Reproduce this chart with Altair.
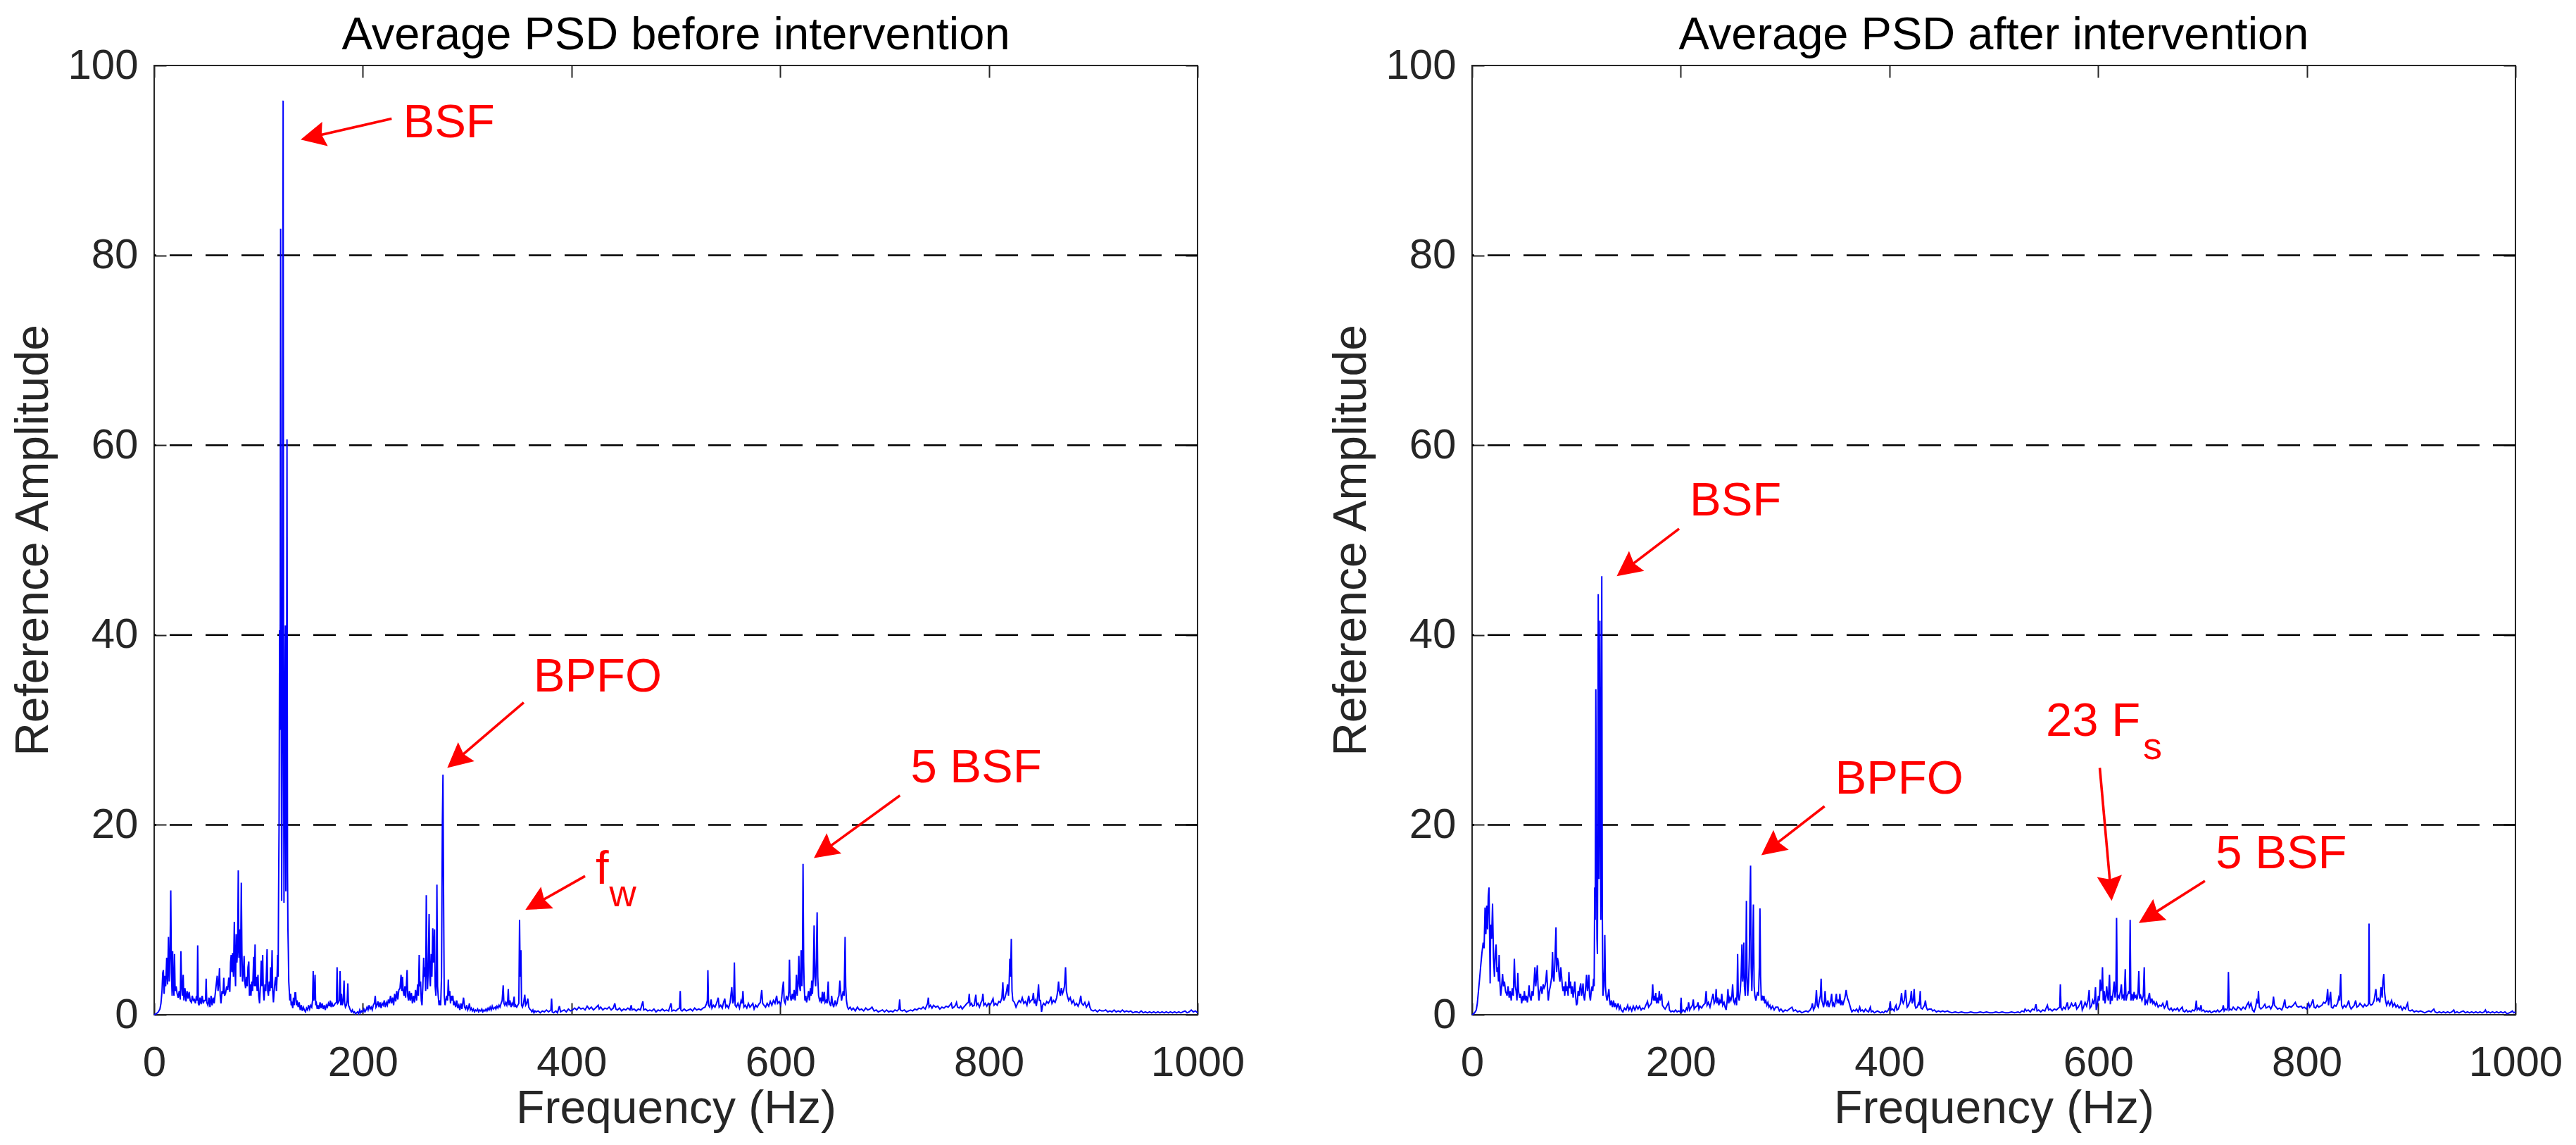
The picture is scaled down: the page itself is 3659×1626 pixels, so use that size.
import math
import altair as alt
import pandas as pd

FONT = "Liberation Sans"
W, H = 1482, 1348
PXF = W / 1000.0   # px per Hz
PXA = H / 100.0    # px per amplitude unit

x_ticks = [0, 200, 400, 600, 800, 1000]
y_ticks = [0, 20, 40, 60, 80, 100]
grid_levels = [20, 40, 60, 80]

# ---- spectrum before intervention: (frequency Hz, amplitude)
before_pts = [
(0,0),(2,0.1),(4,0.3),(5.5,0.6),(6.5,1.2),(7.5,2.5),(8.2,4.4),(8.8,4.7),(9.5,2.2),(10.3,4.1),(11,3),(12,6.0),(12.8,3.2),
(13.7,8.2),(14.4,3.5),(15.2,6.5),(15.9,13.1),(16.5,4.4),(17.2,2.0),(17.7,6.7),(18.3,3.0),(19.0,2.0),(19.5,6.4),(20.1,2.5),
(21,3.0),(22,2.2),(23,1.8),(24,2.5),(25.0,1.6),(25.6,6.7),(26.3,3.0),(27.0,2.0),(27.8,4.2),(28.5,1.5),(29.5,2.8),(30.5,1.4),
(31.5,2.5),(32.5,1.7),(33.5,2.4),(34.5,1.5),(35.7,1.3),(36.5,2.0),(37.5,1.5),(38.5,1.6),(39.5,1.2),(40.5,2.0),(41.2,1.5),
(41.7,7.3),(42.3,1.2),(43,1.0),(44,1.8),(45,1.1),(46,2.0),(47,1.2),(48,1.5),(49.2,1.5),(49.8,3.8),(50.4,1.3),(51.5,1.0),
(52.5,1.8),(53.5,0.8),(54.5,2.0),(55.5,1.0),(56.5,1.8),(57.5,1.2),(58.5,2.2),(59.5,3.2),(60.4,4.1),(61.2,2.5),(62.0,3.5),
(62.6,4.9),(63.3,2.0),(64.0,1.2),(65.0,2.5),(66.0,2.2),(66.7,3.9),(67.5,2.0),(68.5,2.3),(69.5,3.0),(70.5,2.6),(71.5,3.9),
(72.5,2.4),(73.2,5.5),(73.8,6.3),(74.5,4.5),(75.2,6.5),(76.0,4.0),(76.8,9.8),(77.4,5.0),(78.0,3.0),(78.6,8.5),(79.3,5.5),
(80.0,7.0),(80.6,15.2),(81.2,6.0),(82.0,9.0),(82.7,4.0),(83.5,13.9),(84.1,6.5),(84.7,3.5),(85.5,4.5),(86.2,6.2),(86.8,3.5),
(87.6,2.8),(88.3,4.0),(89.2,3.0),(89.9,5.0),(90.7,5.6),(91.3,2.0),(92.0,3.2),(92.8,2.0),(93.5,3.5),(94.3,2.5),(95.4,6.1),
(96.0,3.0),(96.7,7.4),(97.3,3.0),(98.0,4.0),(98.7,2.5),(99.5,4.2),(100.2,2.0),(101.0,1.2),(101.8,3.0),(102.6,5.7),(103.3,3.0),
(104.0,6.3),(104.6,2.5),(105.3,1.5),(106.2,3.2),(107.0,2.5),(107.6,4.5),(108.2,6.9),(108.8,2.5),(109.5,2.0),(110.3,3.5),
(111.0,2.5),(111.6,5.0),(112.3,2.8),(113.0,6.8),(113.6,2.5),(114.3,1.3),(115.0,2.5),(115.8,3.5),(116.5,4.0),(117.2,2.5),
(117.8,4.0),(118.3,6.3),(118.8,4.0),(119.2,12),(119.7,20),(120.2,40.5),(120.7,30),(121.2,82.8),(121.7,35),(122.2,12),
(122.8,30),(123.6,96.3),(124.1,25),(124.4,11.8),(124.8,20),(125.2,33.5),(125.7,41),(126.2,13),(126.8,28),(127.3,60.6),
(127.8,15),(128.2,9),(128.6,6.6),(129.0,3.5),(129.5,2.5),(130.0,1.5),(130.7,2.2),(131.3,1.0),(132.0,1.2),(132.8,0.7),
(133.5,1.8),(134.2,1.0),(135.0,2.3),(135.6,2.3),(136.3,1.0),(137.0,1.5),(138.0,0.8),(139.0,1.3),(140.0,0.5),(141.0,1.0),
(142.0,0.4),(143.0,0.8),(144.0,0.5),(145.0,0.3),(146.0,0.7),(147.0,0.5),(148.0,1.0),(149.0,0.6),(150.0,1.0),(151.0,0.8),
(151.8,1.5),(152.4,4.6),(153.0,1.5),(153.6,2.0),(154.2,4.2),(154.8,1.0),(155.5,1.2),(156.3,0.6),(157.0,1.0),(158.0,0.6),
(159.0,1.3),(160.0,0.7),(161.0,1.2),(162.0,0.6),(163.0,1.0),(164.0,0.5),(165.0,1.0),(166.0,0.8),(167.0,1.2),(168.0,0.9),
(168.8,1.5),(169.6,0.8),(170.5,1.2),(171.5,0.9),(172.5,1.0),(173.5,1.2),(174.7,1.3),(175.3,5.0),(175.9,1.2),(176.6,1.3),
(177.4,1.5),(178.2,4.6),(178.8,1.0),(179.5,2.2),(180.3,1.0),(181.2,1.5),(182.0,3.6),(182.6,1.2),(183.3,0.8),(184.2,1.0),
(185.0,1.5),(185.6,3.3),(186.2,1.0),(187.0,0.8),(188.0,0.5),(189.0,0.3),(190.0,0.5),(191.0,0.2),(192.0,0.3),(193.0,0.1),
(194.0,0.2),(195.0,0.3),(196.0,0.1),(197.0,0.5),(198.0,0.2),(199.0,0.4),(200.0,0.3),(201.0,0.6),(202.0,0.3),(203.0,0.5),
(204.0,0.8),(205.0,0.5),(206.0,1.0),(207.0,0.6),(208.0,0.8),(209.0,0.5),(210.0,1.0),(211.0,1.2),(211.9,2.0),(212.6,0.8),
(213.5,1.0),(214.5,1.4),(215.5,0.8),(216.5,1.3),(217.5,0.7),(218.5,1.2),(219.5,1.0),(220.5,1.5),(221.5,0.8),(222.5,1.3),
(223.5,1.0),(224.5,1.6),(225.5,1.2),(226.5,2.0),(227.5,1.2),(228.5,1.8),(229.5,1.0),(230.5,2.2),(231.5,1.4),(232.5,2.5),
(233.5,1.6),(234.5,2.6),(235.6,2.8),(236.6,4.2),(237.3,2.5),(238.0,4.0),(238.7,2.5),(239.5,2.0),(240.3,3.0),(241.0,1.8),
(241.8,3.2),(242.4,4.7),(243.0,2.0),(243.8,1.5),(244.6,2.5),(245.5,1.5),(246.5,2.3),(247.5,1.2),(248.5,2.0),(249.5,1.3),
(250.5,2.6),(251.5,1.5),(252.5,3.2),(253.3,2.0),(254.0,6.3),(254.6,3.0),(255.3,3.5),(256.0,1.5),(256.7,1.0),(257.5,3.0),
(258.3,6.0),(258.9,4.0),(259.6,5.0),(260.2,2.5),(260.8,12.6),(261.4,5.0),(262.0,2.7),(262.6,4.5),(263.5,10.6),(264.1,4.0),
(264.7,3.0),(265.5,6.4),(266.2,4.0),(267.0,9.1),(267.6,5.5),(268.0,6.0),(268.7,9.0),(269.3,3.0),(270.0,2.0),(270.5,4.0),
(271.0,13.7),(271.6,3.0),(272.2,2.0),(273.0,1.0),(273.8,1.5),(274.6,1.0),(275.4,4.0),(276.2,20.2),(276.8,25.3),(277.4,12.0),
(278.0,2.0),(278.8,1.0),(279.5,1.5),(280.3,2.0),(281.2,1.5),(281.9,3.7),(282.5,2.0),(283.3,2.5),(284.0,1.2),(284.8,2.0),
(285.5,1.5),(286.3,2.0),(287.0,1.0),(288.0,1.3),(289.0,0.8),(290.0,1.5),(291.0,0.7),(292.0,1.0),(293.0,0.5),(294.0,1.2),
(295.0,0.6),(296.5,1.8),(297.5,0.8),(298.5,0.6),(299.5,1.0),(300.5,0.5),(301.5,0.8),(302.1,1.2),(303.0,0.5),(304,0.7),
(305,0.4),(306,0.6),(307,0.3),(308,0.5),(309,0.4),(310,0.6),(311,0.3),(312,0.5),(313,0.4),(314,0.6),(315,0.3),(316,0.5),
(317,0.4),(318,0.6),(319,0.4),(320,0.7),(321,0.5),(322,0.8),(323,0.5),(324,0.9),(325,0.6),(326.8,0.8),(327.5,0.6),
(328.5,0.9),(329.5,0.7),(330.5,1.0),(331.5,0.8),(332.5,1.2),(333.5,1.5),(334.5,3.1),(335.2,1.2),(336.0,1.0),(337.0,1.3),
(338.0,1.0),(338.8,1.5),(339.4,2.7),(340.0,1.0),(341.0,1.5),(342.0,0.8),(343.0,1.2),(344.0,1.0),(345.0,1.9),(345.7,0.8),
(346.5,1.0),(347.5,0.8),(348.5,1.0),(349.5,1.2),(350.2,10.0),(350.8,4.0),(351.5,6.8),(352.1,1.0),(353.0,0.8),(354.0,1.2),
(355.2,2.1),(356.0,1.0),(357.0,1.2),(358.1,1.7),(359.0,0.8),(360.0,0.6),(361,0.5),(362,0.3),(363,0.5),(364,0.2),(365,0.4),
(366,0.3),(368,0.4),(370,0.2),(372,0.4),(374,0.3),(376,0.5),(378,0.3),(380.2,0.5),(380.9,1.7),(381.5,0.3),(383,0.2),
(385,0.4),(386.5,0.2),(388.4,0.9),(389.5,0.3),(391,0.4),(393,0.5),(395,0.3),(397,0.6),(399,0.4),(401,0.5),(403,0.7),
(405,0.5),(407,0.8),(409,0.6),(411,0.7),(413,0.5),(415,0.9),(417,0.6),(419,0.8),(421,0.5),(423,0.7),(425.6,1.0),(426.5,0.6),
(428,0.8),(430,0.5),(432,0.7),(434,0.6),(436,0.8),(438,0.5),(440,0.7),(441.5,1.2),(442.5,0.6),(444,0.5),(446,0.7),(448,0.4),
(450,0.6),(452,0.5),(454,0.7),(456,0.5),(457.2,1.0),(458,0.5),(460,0.6),(462,0.4),(464,0.6),(466,0.5),(468.4,1.4),(469.2,0.5),
(471,0.6),(473,0.4),(475,0.5),(477,0.4),(479,0.6),(481,0.3),(483,0.5),(485,0.4),(487,0.6),(489,0.4),(491,0.5),(493,0.4),
(495.4,1.2),(496.2,0.4),(498,0.5),(500,0.4),(502,0.6),(503.5,0.7),(504.2,2.5),(504.8,0.5),(506,0.4),(508,0.6),(510,0.4),
(512,0.5),(514,0.6),(516,0.4),(518,0.7),(520,0.5),(522,0.6),(524,0.5),(526,0.7),(528,0.8),(529.5,1.2),(530.2,1.5),
(530.7,4.7),(531.3,1.0),(532.5,0.8),(533.8,1.6),(534.6,0.7),(536,1.0),(537.5,0.8),(539,1.2),(540.6,1.8),(541.5,0.8),
(543,1.0),(544.5,0.7),(545.5,1.2),(546.9,1.7),(547.8,0.8),(549,1.0),(550.5,0.7),(552,1.3),(553.6,2.9),(554.5,1.2),
(555.4,1.5),(556.1,5.5),(556.8,1.0),(558,0.8),(559.5,1.2),(561,0.7),(562.5,1.5),(563.5,1.2),(564.3,2.5),(565.2,0.8),
(566.5,1.0),(568,0.7),(569.5,1.2),(571,0.8),(572.5,1.0),(573.8,1.2),(575,0.6),(576.5,1.0),(578,0.8),(579.5,1.1),(581,1.3),
(582.3,2.6),(583.2,1.2),(584.5,1.0),(586,0.8),(587.5,1.2),(589,0.9),(590.5,1.4),(592,1.0),(593.5,1.5),(595,1.2),(596.6,2.0),
(597.5,1.2),(599,1.4),(600.5,1.0),(601.5,1.8),(602.3,2.8),(603.1,3.5),(603.8,1.5),(604.8,1.2),(606,2.0),(607.5,1.5),
(608.3,2.5),(608.9,5.8),(609.6,2.0),(610.5,1.5),(611.6,2.2),(612.4,1.6),(613.4,2.6),(614.3,1.5),(615.0,2.5),(615.6,4.2),
(616.3,2.0),(617.2,3.5),(617.9,6.2),(618.5,3.0),(619.3,2.5),(620.1,6.8),(620.8,3.0),(621.3,5.0),(621.9,15.9),(622.5,5.6),
(623.0,3.0),(623.7,1.5),(624.5,2.0),(625.3,1.3),(626.2,1.8),(627.2,2.5),(628.0,1.5),(629.0,2.8),(629.6,2.0),(630.2,3.6),
(630.9,2.2),(631.7,4.0),(632.5,9.4),(633.2,4.0),(634.0,3.0),(634.7,6.0),(635.4,10.8),(636.0,4.0),(636.8,2.0),(637.8,1.5),
(638.8,1.8),(639.6,1.2),(640.4,2.4),(641.2,1.4),(642.2,2.4),(643.0,1.3),(644.0,1.5),(645.0,1.2),(646.0,3.5),(646.7,1.5),
(647.5,1.2),(648.5,0.9),(649.3,2.0),(650.2,1.2),(651.2,0.8),(652.7,1.5),(653.6,1.0),(654.5,1.2),(655.5,1.8),(656.3,2.0),
(657.2,3.6),(657.9,2.5),(658.8,1.5),(659.6,2.0),(660.4,2.5),(661.3,2.0),(662.2,8.2),(662.8,3.0),(663.5,1.5),(664.5,0.8),
(665.5,0.6),(667,0.8),(668.5,0.5),(670,0.7),(672,0.4),(674,0.8),(676,0.5),(678,0.6),(680,0.4),(682,0.7),(684,0.5),(686,0.6),
(688,0.8),(690,0.4),(692,0.5),(694,0.3),(696,0.4),(698,0.5),(700,0.3),(702,0.5),(704,0.3),(706,0.4),(708,0.3),(710,0.5),
(712,0.4),(713.8,0.6),(714.5,1.6),(715.2,0.5),(717,0.4),(719,0.5),(721,0.3),(723,0.4),(725,0.5),(727,0.4),(729,0.6),
(731,0.5),(733,0.7),(735,0.6),(737,0.8),(739,0.6),(740.5,1.0),(741.3,1.2),(742.0,1.8),(742.7,0.8),(744,1.0),(745.5,0.7),
(747,1.0),(749,0.8),(751,0.9),(753,0.6),(755,0.8),(757,0.7),(759,0.9),(761,0.8),(762.5,1.0),(764.0,1.2),(765.0,0.7),
(766.5,0.8),(768,1.0),(769.0,1.3),(770,0.8),(771.5,0.7),(773,0.9),(774.5,0.6),(776,0.8),(777.5,1.0),(779,1.2),(780.4,1.3),
(781.2,2.2),(782.0,1.0),(783.3,1.2),(784.5,0.9),(786,1.0),(787.5,2.1),(788.3,1.0),(789.5,1.2),(791,0.8),(792.5,1.3),
(793.5,1.5),(794.3,2.2),(795.2,1.0),(796.5,1.2),(798,0.9),(799.5,1.2),(801,1.0),(802.5,1.3),(804,1.7),(805,1.0),(806.5,1.2),
(808,1.0),(809.5,1.4),(811,1.3),(812.5,1.8),(813.4,3.4),(814.2,1.5),(815.5,1.8),(817.0,2.5),(817.9,3.2),(818.8,2.0),
(819.5,3.5),(820.1,5.9),(820.8,4.0),(821.5,8.0),(822.2,2.5),(823,1.5),(824.5,1.3),(826,0.8),(827.5,1.2),(829,1.5),
(830.5,1.3),(832,1.8),(833.5,1.2),(835,1.4),(836.5,1.0),(838.2,2.0),(839.2,1.3),(840.5,1.5),(841.8,1.6),(842.7,2.3),
(843.5,1.2),(844.5,1.5),(845.5,0.9),(846.8,2.0),(847.6,3.2),(848.4,1.5),(849.5,1.5),(850.5,0.3),(851.5,1.0),(852.5,1.2),
(854,1.0),(855.5,1.4),(857,1.2),(858.5,1.5),(859.6,1.9),(860.5,1.2),(862,1.5),(863.5,1.3),(865,1.8),(866.0,2.5),(866.8,3.5),
(867.5,2.5),(868.5,2.0),(869.5,2.8),(870.5,2.2),(871.5,2.5),(872.5,3.0),(873.5,5.0),(874.3,2.5),(875.2,2.0),(876.5,1.5),
(878,1.8),(879.5,1.2),(881,1.5),(882.5,1.0),(884,1.2),(885.5,0.9),(887,1.3),(888.1,2.0),(889,1.2),(890.5,1.0),(892,1.3),
(893.5,0.8),(895,1.1),(895.8,1.3),(896.8,0.8),(898,0.5),(900,0.4),(902,0.5),(904,0.3),(906,0.5),(908,0.4),(910,0.4),
(912,0.5),(914,0.3),(916,0.4),(918,0.3),(920,0.5),(922,0.3),(924,0.4),(926,0.3),(928,0.5),(930,0.3),(932,0.4),(934,0.3),
(936,0.4),(938,0.2),(940,0.3),(942,0.3),(944,0.2),(946,0.4),(948,0.2),(950,0.3),(952,0.2),(954,0.3),(956,0.2),(958,0.3),
(960,0.2),(962,0.3),(964,0.2),(966,0.3),(968,0.2),(970,0.3),(972,0.2),(974,0.3),(976,0.2),(978,0.3),(980,0.2),(982,0.3),
(984,0.2),(986,0.3),(988,0.4),(990,0.2),(992,0.3),(994,0.5),(996,0.3),(998,0.4),(1000,0.2),
]

# ---- spectrum after intervention
after_pts = [
(0,0),(1.5,0.1),(3,0.3),(4,0.5),(5,1.2),(6.1,2.5),(7.2,3.8),(8.3,5.2),(9.4,6.5),(10.6,7.6),(11.5,7.0),(12.4,11.3),(13.2,8.5),
(14.0,11.5),(14.8,9.0),(15.5,12.5),(16.2,13.4),(16.8,8.0),(17.3,3.3),(17.8,9.5),(18.7,8.0),(19.6,11.7),(20.5,6.0),(21.4,4.0),
(22.2,6.5),(23.0,7.4),(23.8,4.5),(24.6,5.0),(25.3,3.5),(25.9,6.3),(26.6,3.5),(27.4,2.0),(28.3,3.0),(29.2,4.3),(30.0,3.0),
(31.0,3.5),(32.0,2.5),(33.5,2.0),(34.5,3.0),(35.5,1.8),(36.5,2.5),(37.5,1.5),(38.5,2.8),(39.5,2.0),(40.5,5.9),(41.3,3.0),
(42.2,2.5),(43.0,1.5),(43.8,4.4),(44.5,2.5),(45.5,1.8),(46.5,2.2),(47.5,1.2),(48.5,2.0),(49.3,1.5),(50.1,2.5),(51.0,1.5),
(52.0,2.0),(53.0,1.3),(54.0,2.2),(54.6,3.1),(55.3,2.0),(56.5,1.5),(57.5,2.5),(58.5,2.0),(59.4,3.5),(60.2,5.0),(61.0,3.0),
(61.8,4.0),(62.5,5.2),(63.2,3.0),(64.0,1.5),(65.0,2.5),(66.0,3.0),(67.0,2.2),(68.1,3.2),(69.0,2.8),(69.8,3.0),(70.6,3.5),
(71.5,4.7),(72.2,3.0),(73.0,1.5),(74.0,2.5),(75.0,3.0),(76.3,4.0),(77.1,6.6),(77.7,4.0),(78.5,3.5),(79.3,5.5),(80.4,9.2),
(81.0,4.5),(81.8,6.0),(82.7,5.5),(83.5,4.0),(84.2,3.5),(85.0,5.0),(85.8,4.0),(86.5,3.0),(87.2,2.5),(88.0,3.0),(88.8,2.0),
(89.6,3.5),(90.5,2.5),(91.3,3.0),(92.0,2.0),(92.8,4.5),(93.5,2.8),(94.3,3.5),(95.2,2.2),(96.0,3.0),(96.8,1.8),(97.6,2.5),
(98.4,3.5),(99.2,2.0),(100.0,1.0),(100.8,1.2),(101.6,2.5),(102.5,2.0),(103.3,2.8),(104.1,3.3),(104.8,2.0),(105.6,2.5),
(106.3,3.3),(107.0,2.0),(107.8,1.5),(108.6,2.5),(109.7,4.2),(110.5,2.5),(111.2,3.0),(111.9,4.2),(112.6,2.0),(113.4,1.5),
(114.2,2.5),(115.0,3.0),(115.7,2.5),(116.4,3.8),(117.0,3.0),(117.5,13.4),(118.0,10),(118.6,34.3),(119.2,16),(119.7,8),
(120.1,6.4),(120.5,20),(120.9,44.3),(121.5,14.3),(122.0,25),(122.5,41.5),(123.0,18),(123.4,10),(123.9,30),(124.3,46.2),
(124.8,11),(125.4,2.0),(126.2,3.0),(126.8,5.0),(127.2,8.4),(127.8,3.0),(128.5,2.0),(129.3,1.5),(130.2,2.0),(131.1,2.7),
(131.8,1.5),(132.5,1.0),(133.5,1.5),(134.5,0.8),(135.6,1.5),(136.5,0.8),(137.5,1.2),(138.5,0.7),(140.0,1.2),(141.0,0.6),
(142.0,0.9),(143.0,0.5),(144.5,0.3),(146.0,0.7),(147.5,0.5),(149.1,1.0),(150.2,0.5),(151.5,0.8),(153.0,0.4),(154.5,0.9),
(156.0,0.5),(157.5,0.9),(159.0,0.6),(160.5,0.9),(162.0,0.5),(163.5,0.7),(165.0,0.6),(166.5,1.0),(168.1,1.4),(169.2,0.8),
(170.5,1.0),(171.8,1.2),(172.5,2.0),(173.1,3.2),(173.8,1.5),(174.6,2.0),(175.3,1.5),(176.0,2.3),(176.8,1.2),(177.6,1.8),
(178.5,1.2),(179.4,2.5),(180.2,1.5),(181.0,1.8),(181.6,2.2),(182.4,1.0),(183.5,0.8),(185.0,0.6),(186.5,0.9),(188.3,1.3),
(189.2,0.5),(190.5,0.3),(192,0.4),(193.5,0.3),(195,0.5),(196.5,0.3),(198,0.4),(199.6,0.3),(200.3,1.8),(201.0,0.3),(202.5,0.5),
(204,0.3),(205.5,0.7),(206.5,0.5),(207.5,1.3),(208.5,0.5),(210,0.8),(211.2,1.0),(212.0,1.6),(212.8,0.6),(214,0.8),(215.5,0.9),
(216.5,1.3),(217.4,0.6),(218.5,0.9),(220,0.7),(221.5,1.0),(223.3,1.2),(224.3,2.5),(225.2,1.0),(226.5,1.3),(228,0.8),
(229.5,1.5),(231.0,2.2),(232.0,1.2),(233.2,1.5),(233.9,2.7),(234.6,1.2),(235.5,1.8),(236.5,1.0),(237.5,1.5),(238.5,1.2),
(239.3,2.2),(240.2,1.0),(241.5,1.3),(242.5,0.8),(243.5,0.5),(244.5,1.5),(245.2,2.7),(246.0,1.2),(247.0,1.8),(248.0,1.5),
(249.0,2.0),(249.7,3.2),(250.5,1.5),(251.5,1.2),(252.5,1.8),(253.5,1.0),(254.0,2.5),(254.5,6.4),(255.1,2.0),(256.0,1.5),
(257.0,2.5),(257.8,4.0),(258.6,7.4),(259.3,3.5),(259.9,4.5),(260.4,7.6),(261.0,3.0),(261.8,2.0),(262.4,5.0),(262.9,12.0),
(263.5,4.0),(264.2,2.0),(265.0,3.5),(265.7,6.0),(266.3,12),(266.9,15.7),(267.5,5.0),(268.1,2.5),(268.7,5.0),(269.6,11.6),
(270.3,3.0),(271.0,2.0),(272.0,1.5),(272.8,2.0),(273.6,2.4),(274.5,2.0),(275.3,5.0),(275.9,11.2),(276.5,4.0),(277.2,1.5),
(278.0,2.0),(279.0,1.5),(279.7,2.0),(280.5,1.2),(281.5,1.5),(282.5,1.0),(283.5,1.3),(284.5,0.8),(285.5,1.0),(286.5,0.6),
(288,0.9),(289.5,0.5),(291,0.8),(293.1,0.8),(294.5,0.4),(296,0.6),(298,0.3),(300,0.5),(302,0.4),(304,0.6),(306.6,0.8),
(308,0.4),(310,0.5),(312,0.3),(314,0.4),(316,0.2),(318,0.3),(320,0.4),(322,0.3),(324,0.5),(325.4,0.8),(326.2,1.2),(327.2,0.5),
(328.5,0.8),(329.3,1.5),(330.0,2.6),(330.8,1.0),(331.8,0.8),(332.8,1.5),(333.8,2.0),(334.5,3.8),(335.2,1.5),(336.0,1.2),
(336.8,0.8),(337.5,1.2),(338.3,2.5),(339.2,1.2),(340.0,1.0),(341.0,1.5),(342.0,0.8),(343.0,1.2),(343.8,1.5),(344.6,2.2),
(345.4,1.0),(346.3,1.2),(347.3,0.8),(348.3,1.5),(349.1,2.2),(349.8,1.3),(350.8,1.5),(351.8,1.2),(352.5,2.2),(353.3,1.0),
(354.3,1.5),(355.3,1.0),(356.3,1.4),(357.3,1.8),(358.0,2.2),(358.5,2.6),(359.3,2.0),(360.2,1.6),(361.0,1.4),(362.0,1.0),
(363.0,0.6),(364.0,0.3),(365.5,0.5),(367,0.4),(368.5,0.6),(370,0.3),(371.5,0.8),(372.5,0.4),(374,0.5),(375.5,0.3),(377,0.6),
(378.5,0.4),(380,0.3),(381.7,0.8),(382.6,0.3),(384,0.4),(385.5,0.2),(387,0.3),(388.5,0.4),(390,0.3),(391.5,0.2),(393,0.3),
(394.5,0.2),(396,0.4),(397.5,0.3),(399,0.5),(400.2,0.8),(400.8,1.4),(401.5,0.5),(403,0.6),(404.5,0.4),(405.5,0.8),(406.4,1.0),
(407.2,0.5),(408.5,0.6),(409.5,0.9),(410.5,1.2),(411.6,2.3),(412.3,1.5),(413.2,1.2),(414.2,1.5),(415.4,2.6),(416.2,1.5),
(417.0,0.8),(418.2,1.0),(419.2,1.3),(420.0,1.5),(421.0,2.5),(421.8,1.2),(422.8,1.5),(423.7,2.7),(424.5,1.0),(425.3,0.7),
(426.5,0.8),(427.8,1.2),(428.6,1.0),(429.5,2.5),(430.2,0.7),(431.5,0.6),(432.5,0.8),(433.6,1.0),(434.5,1.5),(435.3,0.8),
(436.5,0.5),(438.0,0.6),(440.1,0.6),(441.5,0.4),(443,0.5),(445,0.3),(447,0.4),(449,0.3),(451,0.4),(453,0.3),(455.8,0.4),
(457,0.3),(460,0.2),(463,0.3),(466,0.2),(469,0.3),(472,0.2),(475,0.2),(478,0.3),(481,0.2),(484,0.2),(487,0.3),(490,0.2),
(493,0.3),(496,0.2),(499,0.2),(502,0.3),(505,0.2),(508,0.3),(511,0.2),(514,0.2),(517,0.3),(520,0.2),(523.3,0.3),(525,0.2),
(527,0.4),(529,0.3),(530,0.6),(531.5,0.4),(533,0.5),(535,0.3),(537,0.6),(539,0.5),(540.4,1.1),(541.5,0.4),(543,0.5),(545,0.3),
(547,0.5),(549,0.4),(550.6,0.8),(551.4,1.0),(552.5,0.5),(554,0.6),(556,0.4),(558,0.6),(560,0.5),(562,0.7),(563.2,0.8),
(563.8,3.2),(564.5,0.7),(565.5,0.5),(567,0.8),(568.5,0.6),(570.5,1.3),(571.5,0.6),(573,0.8),(574.5,1.2),(576,0.9),(577.5,1.0),
(578.3,1.3),(579.5,0.6),(581,0.8),(582.5,1.1),(583.9,1.5),(584.8,0.5),(586,0.8),(587.5,1.3),(589,0.9),(590.5,1.6),(591.4,2.6),
(592.2,0.7),(593.5,0.9),(594.8,1.5),(596,1.1),(596.8,1.8),(597.5,2.9),(598.2,0.5),(599.2,1.0),(600.3,2.0),(601.2,1.5),
(602.0,3.7),(602.8,2.5),(603.6,3.0),(604.2,5.0),(604.9,1.5),(605.8,2.5),(606.6,1.2),(607.4,1.8),(608.2,3.0),(609.0,2.0),
(609.8,1.5),(610.9,4.2),(611.7,1.1),(612.6,2.0),(613.5,1.5),(614.5,2.5),(615.4,3.5),(616.2,1.8),(617.0,2.5),(617.7,10.2),
(618.4,1.5),(619.3,2.0),(620.3,1.8),(621.5,2.5),(622.3,3.2),(623.0,1.8),(624.0,2.0),(625.0,1.5),(626.0,4.8),(626.8,1.5),
(627.8,2.0),(628.6,2.2),(629.4,2.5),(630.0,2.2),(630.7,10.0),(631.4,1.5),(632.5,2.2),(633.5,1.5),(634.5,2.4),(635.3,1.8),
(636.3,2.0),(637.2,1.6),(638.2,2.2),(639.0,4.6),(639.8,1.7),(640.8,2.0),(642.0,1.5),(643.3,2.0),(644.2,5.0),(644.9,1.0),
(646.0,1.5),(647.2,1.2),(648.2,1.8),(649.2,2.3),(650.2,1.2),(651.5,1.7),(652.5,1.2),(653.5,1.4),(654.8,1.0),(656.0,1.3),
(657.5,0.8),(659.0,1.0),(660.5,0.9),(662.0,1.2),(663.5,0.7),(665.0,1.0),(666.0,1.5),(667.0,0.7),(668.5,0.5),(670.0,0.7),
(671.5,0.4),(673.0,0.6),(674.5,0.5),(676.0,0.7),(677.5,0.4),(679.0,0.6),(680.6,0.8),(681.5,0.4),(683.0,0.3),(684.5,0.5),
(686.0,0.3),(687.5,0.4),(689.0,0.3),(690.5,0.5),(692.0,0.4),(693.2,0.6),(694.1,1.5),(694.9,0.5),(696.2,0.7),(697.5,0.5),
(698.6,1.0),(699.5,0.4),(701,0.5),(702.5,0.3),(704,0.4),(705.5,0.3),(707,0.4),(708.5,0.2),(710,0.3),(711.5,0.4),(713,0.3),
(714.5,0.5),(716,0.3),(717.5,0.4),(719.2,0.6),(720.0,1.0),(720.8,0.4),(722,0.6),(723.5,0.5),(724.2,0.8),(724.9,4.5),
(725.6,0.5),(726.5,0.6),(728,0.5),(729.5,0.8),(731,0.6),(732.5,0.5),(734,0.8),(735.7,0.7),(737,0.5),(739,0.8),(741,0.6),
(742.5,1.0),(744.1,1.3),(745,0.8),(746.5,1.2),(748,0.5),(749.5,0.3),(751,0.8),(752,1.5),(753.0,1.2),(753.7,2.5),(754.5,0.8),
(756,0.6),(758,0.8),(759.8,1.1),(761,0.7),(762.5,0.8),(764,0.9),(765.5,0.6),(767.2,1.0),(768.1,1.9),(769.0,1.0),(770.5,0.8),
(772,0.6),(774,0.7),(776,0.5),(777.5,0.9),(778.9,1.6),(779.8,0.8),(781.5,0.7),(783,0.9),(785,0.8),(787,1.0),(789,1.3),
(790.5,0.9),(792,0.8),(794.7,0.9),(796,0.7),(797.5,0.8),(799.8,0.6),(800.8,0.9),(801.8,1.2),(802.8,0.8),(804,1.0),(805.9,1.6),
(807,0.8),(808.5,0.7),(810,1.0),(811.5,0.8),(813,0.9),(814.5,1.0),(816.1,1.3),(817.5,1.2),(819,1.5),(820,2.7),(820.8,1.0),
(822.0,1.8),(822.8,2.4),(823.6,0.8),(825,0.7),(826.5,1.0),(828,0.9),(829.5,1.2),(830.6,1.8),(831.5,1.5),(832.5,4.3),
(833.3,1.0),(834.5,0.7),(836,1.0),(837.5,0.8),(839,1.1),(840.1,1.5),(841.2,0.9),(842.5,0.6),(844,0.8),(845.5,1.0),(846.8,1.5),
(848,0.8),(849.5,0.9),(851,1.2),(852.5,1.0),(854,0.8),(855.5,1.1),(857,0.9),(858.5,1.0),(859.3,1.2),(859.7,9.6),(860.2,1.2),
(861.5,1.0),(863,1.1),(864.5,1.5),(866.2,2.7),(867.2,1.5),(868.5,1.7),(870,1.3),(871.2,2.9),(872.2,1.8),(873.0,3.5),
(873.8,4.3),(874.6,2.3),(875.5,1.5),(876.5,1.0),(878,1.4),(879.5,1.0),(881.3,1.5),(882.5,0.9),(884,1.2),(885.5,0.8),(887,1.0),
(888.5,0.7),(890,0.9),(891.5,0.5),(893,0.8),(894.5,0.6),(896.6,1.2),(897.5,0.5),(899,0.4),(901,0.5),(903,0.3),(905,0.4),
(907,0.3),(909,0.4),(911,0.3),(913,0.2),(915,0.3),(917,0.4),(919,0.3),(921.8,0.6),(923,0.3),(925,0.2),(927,0.3),(929,0.2),
(931,0.3),(933,0.2),(935,0.3),(937,0.2),(939,0.3),(940.9,0.5),(942,0.2),(944,0.3),(946,0.2),(948,0.3),(950,0.4),(952,0.2),
(954,0.3),(956,0.2),(958,0.3),(960,0.2),(962,0.3),(964,0.2),(966,0.3),(968,0.2),(970,0.3),(971.2,0.5),(972.5,0.2),(974,0.3),
(976,0.2),(978,0.3),(980,0.2),(982,0.3),(984,0.2),(986,0.3),(988,0.2),(990,0.3),(992,0.1),(994,0.2),(996,0.3),(997,0.4),
(998.5,0.2),(1000,0.3),
]

# ---- annotations: (label, frequency, amplitude of baseline, font size)
before_labels = [("BSF", 238.5, 92.4, 67), ("BPFO", 363.5, 34.06, 67), ("f", 423.0, 13.82, 67),
                 ("w", 436.2, 11.42, 53), ("5 BSF", 725.0, 24.5, 67)]
after_labels = [("BSF", 208.5, 52.6, 67), ("BPFO", 347.8, 23.3, 67), ("23 F", 550.0, 29.4, 67),
                ("s", 643.0, 26.96, 54), ("5 BSF", 712.8, 15.4, 67)]
# arrows: (start freq, start amp, tip freq, tip amp)
before_arrows = [(227.6, 94.4, 140.4, 92.2), (354.2, 32.9, 280.9, 26.0),
                 (413.0, 14.6, 355.8, 11.05), (714.8, 23.1, 632.3, 16.5)]
after_arrows = [(198.4, 51.2, 138.6, 46.2), (337.8, 21.96, 277.2, 16.8),
                (601.6, 26.0, 613.0, 12.0), (702.4, 14.1, 639.0, 9.67)]

RED = "#FF0000"
AXC = "#262626"
HEAD_PATH = "M0,0 L-2,-1 L-1.72,0 L-2,1 Z"
HEAD_SIZE = 1260
HEAD_K = math.sqrt(HEAD_SIZE) / 2.0
TICK = 17


def arrow_frames(arrows):
    rows = []
    for f1, a1, f2, a2 in arrows:
        dx = (f2 - f1) * PXF
        dy = -(a2 - a1) * PXA
        L = math.hypot(dx, dy)
        ux, uy = dx / L, dy / L
        ang = math.degrees(math.atan2(dy, dx)) % 360
        back = 1.55 * HEAD_K
        fe = f2 - ux * back / PXF
        ae = a2 + uy * back / PXA
        rows.append({"f1": f1, "a1": a1, "fe": fe, "ae": ae, "f2": f2, "a2": a2, "ang": ang})
    return pd.DataFrame(rows)


def tick_axis(orient, values):
    return alt.Axis(orient=orient, values=values, labels=False, title=None, domain=False, grid=False,
                    ticks=True, tickSize=TICK, offset=-TICK, tickColor=AXC, tickWidth=2,
                    minExtent=0, maxExtent=0)


def panel(pts, title, labels, arrows):
    df = pd.DataFrame(pts, columns=["f", "a"])
    xs = alt.Scale(domain=[0, 1000], nice=False, zero=False)
    ys = alt.Scale(domain=[0, 100], nice=False)

    grid = alt.Chart(pd.DataFrame({"g": grid_levels})).mark_rule(
        color="black", strokeWidth=2.5, strokeDash=[32, 19]
    ).encode(y=alt.Y("g:Q", scale=ys, axis=None))

    line = alt.Chart(df).mark_line(color="#0000FF", strokeWidth=2.0, interpolate="linear").encode(
        x=alt.X("f:Q", scale=xs, axis=alt.Axis(
            orient="bottom", values=x_ticks, format="d", title="Frequency (Hz)", ticks=False, domain=False,
            grid=False, labelPadding=39, titlePadding=3, labelFlush=False, labelOverlap=False)),
        y=alt.Y("a:Q", scale=ys, axis=alt.Axis(
            orient="left", values=y_ticks, format="d", title="Reference Amplitude", ticks=False, domain=False,
            grid=False, labelPadding=23, titlePadding=14, labelFlush=False, labelOverlap=False)),
    )

    corner = pd.DataFrame({"f": [0, 1000], "a": [0, 100]})
    ticks_out = alt.Chart(corner).mark_point(opacity=0).encode(
        x=alt.X("f:Q", scale=xs, axis=tick_axis("top", x_ticks)),
        y=alt.Y("a:Q", scale=ys, axis=tick_axis("right", y_ticks)),
    )
    ticks_in = alt.Chart(corner).mark_point(opacity=0).encode(
        x=alt.X("f:Q", scale=xs, axis=tick_axis("bottom", x_ticks)),
        y=alt.Y("a:Q", scale=ys, axis=tick_axis("left", y_ticks)),
    )

    adf = arrow_frames(arrows)
    shafts = alt.Chart(adf).mark_rule(color=RED, strokeWidth=3.6, strokeCap="butt").encode(
        x=alt.X("f1:Q", scale=xs, axis=None), y=alt.Y("a1:Q", scale=ys, axis=None),
        x2="fe:Q", y2="ae:Q")
    heads = alt.Chart(adf).mark_point(shape=HEAD_PATH, filled=True, color=RED, opacity=1,
                                      strokeWidth=0, size=HEAD_SIZE).encode(
        x=alt.X("f2:Q", scale=xs, axis=None), y=alt.Y("a2:Q", scale=ys, axis=None),
        angle=alt.Angle("ang:Q", scale=None))

    tdf = pd.DataFrame(labels, columns=["label", "f", "a", "s"])
    texts = alt.Chart(tdf).mark_text(align="left", baseline="alphabetic", color=RED, font=FONT).encode(
        x=alt.X("f:Q", scale=xs, axis=None), y=alt.Y("a:Q", scale=ys, axis=None),
        text="label:N", size=alt.Size("s:Q", scale=None))

    return alt.layer(grid, line, ticks_out, ticks_in, shafts, heads, texts).resolve_axis(
        x="independent", y="independent"
    ).properties(
        width=W, height=H,
        title=alt.TitleParams(title, fontSize=65, font=FONT, fontWeight="normal", color="black",
                              anchor="middle", baseline="alphabetic", offset=-72),
    )


left = panel(before_pts, "Average PSD before intervention", before_labels, before_arrows)
right = panel(after_pts, "Average PSD after intervention", after_labels, after_arrows)

chart = alt.hconcat(left, right, spacing=390, bounds="flush").properties(
    padding={"left": 5, "top": 9, "right": 5, "bottom": 5},
    background="white",
).configure_view(
    stroke=AXC, strokeWidth=2
).configure_axis(
    labelFont=FONT, labelFontSize=60, labelColor=AXC,
    titleFont=FONT, titleFontSize=66, titleFontWeight="normal", titleColor=AXC,
)

chart.save("out.html", embed_options={"renderer": "svg", "actions": False})
